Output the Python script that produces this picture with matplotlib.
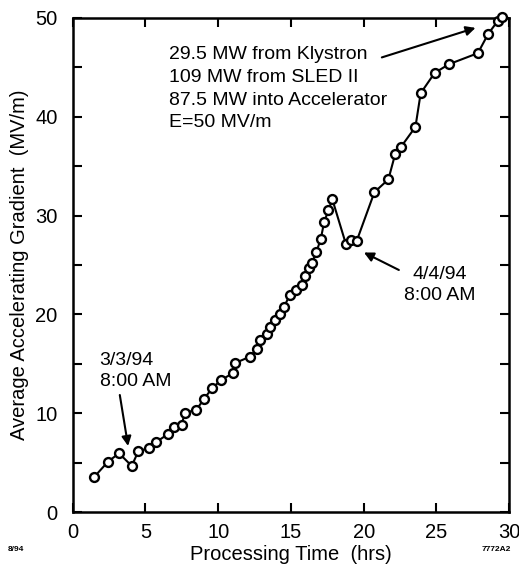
import matplotlib
matplotlib.use("Agg")
import matplotlib.pyplot as plt

hours = [1.46, 2.44, 3.19, 4.06, 4.52, 5.25, 5.75, 6.56, 6.94, 7.49, 7.71, 8.49,
         9.03, 9.58, 10.21, 11.00, 11.18, 12.19, 12.64, 12.90, 13.34, 13.58, 13.92,
         14.23, 14.51, 14.93, 15.34, 15.79, 15.98, 16.21, 16.44, 16.75, 17.05, 17.28,
         17.58, 17.85, 18.79, 19.13, 19.53, 20.74, 21.70, 22.16, 22.55, 23.56, 23.92,
         24.88, 25.86, 27.85, 28.55, 29.21, 29.49]
gradient = [3.51, 5.11, 5.94, 4.66, 6.17, 6.45, 7.09, 7.89, 8.63, 8.81, 10.05, 10.32,
            11.44, 12.52, 13.36, 14.04, 15.08, 15.72, 16.47, 17.36, 18.02, 18.72, 19.38,
            20.04, 20.72, 21.96, 22.44, 22.98, 23.84, 24.67, 25.17, 26.32, 27.60, 29.30,
            30.57, 31.63, 27.07, 27.48, 27.46, 32.36, 33.66, 36.18, 36.91, 38.97, 42.38,
            44.43, 45.31, 46.43, 48.35, 49.68, 50.13]
x_ticks = [0, 5, 10, 15, 20, 25, 30]
y_ticks = [0, 10, 20, 30, 40, 50]

plt.rcParams['font.family'] = ['Liberation Sans', 'DejaVu Sans']

fig = plt.figure(figsize=(5.19, 5.66), dpi=100)
ax = fig.add_axes([0.140, 0.0954, 0.841, 0.873])

ax.plot(hours, gradient, color='black', lw=1.5, marker='o', ms=6.4,
        mfc='white', mec='black', mew=1.7, clip_on=False, zorder=3)

ax.set_xlim(0, 30)
ax.set_ylim(0, 50)
ax.set_xticks(x_ticks)
ax.set_yticks(y_ticks)
ax.set_xticks(range(0, 31, 5), minor=True)
ax.set_yticks(range(0, 51, 5), minor=True)
ax.tick_params(which='both', direction='in', top=True, right=True, length=6.5,
               width=1.5, labelsize=14.5)
ax.tick_params(axis='y', pad=11)
ax.tick_params(axis='x', pad=8)
for s in ax.spines.values():
    s.set_linewidth(1.8)

ax.set_xlabel('Processing Time  (hrs)', fontsize=14.5, labelpad=2)
ax.set_ylabel('Average Accelerating Gradient  (MV/m)', fontsize=14.5, labelpad=4)

arrow_kw = dict(arrowstyle='-|>', color='black', lw=1.5, mutation_scale=14,
                shrinkA=0, shrinkB=0)

ax.text(6.6, 47.2, '29.5 MW from Klystron\n109 MW from SLED II\n87.5 MW into Accelerator\nE=50 MV/m',
        fontsize=14, va='top', ha='left', linespacing=1.46)
ax.annotate('', xy=(27.69, 48.99), xytext=(21.25, 46.0), arrowprops=arrow_kw)

ax.annotate('', xy=(20.02, 26.26), xytext=(22.42, 24.49), arrowprops=arrow_kw)
ax.text(25.2, 24.9, '4/4/94\n8:00 AM', fontsize=14, ha='center', va='top', linespacing=1.3)

ax.annotate('', xy=(3.81, 6.68), xytext=(3.24, 11.84), arrowprops=arrow_kw)
ax.text(1.85, 16.2, '3/3/94\n8:00 AM', fontsize=14, ha='left', va='top', linespacing=1.3)

fig.text(0.015, 0.030, '8/94', fontsize=6, fontweight='bold', ha='left', va='center')
fig.text(0.985, 0.030, '7772A2', fontsize=6, fontweight='bold', ha='right', va='center')

fig.savefig('out.png', dpi=100)
